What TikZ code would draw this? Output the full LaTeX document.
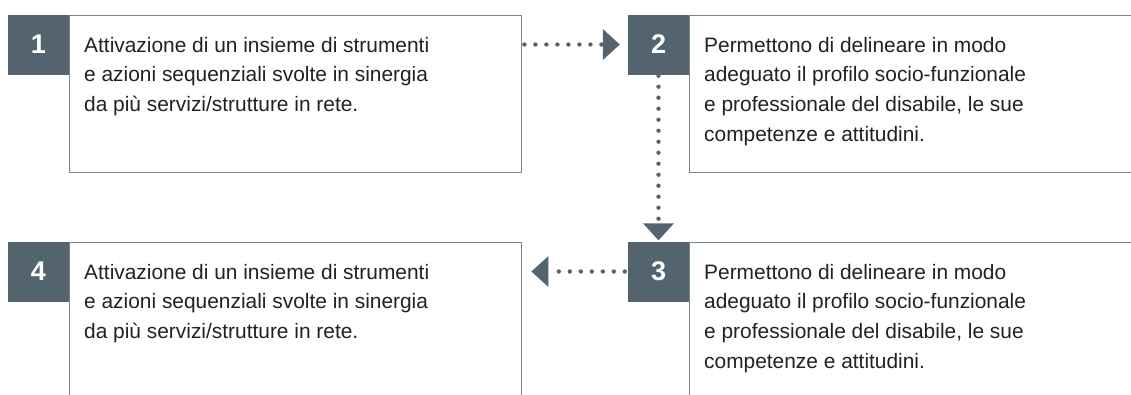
\documentclass[tikz,border=0pt]{standalone}
\usepackage{fontspec}
\setmainfont{Liberation Sans}
\usetikzlibrary{arrows.meta}
\definecolor{slate}{HTML}{53646E}
\definecolor{frame}{HTML}{76858F}
\definecolor{ink}{HTML}{222222}
\tikzset{
  numbox/.style={fill=slate, draw=none, minimum width=61pt, minimum height=60pt, inner sep=0pt, text=white, font=\fontsize{27}{27}\selectfont\bfseries},
  framebox/.style={draw=frame, line width=1.4pt, fill=white, inner sep=0pt, anchor=north west},
  txt/.style={inner sep=0pt, anchor=base west, text=ink},
  flow/.style={draw=slate, line width=4.4pt, line cap=round, dash pattern=on 0pt off 11pt,
    -{Triangle[length=17pt,width=31pt,fill=slate,line width=0pt]}}
}
\newcommand{\bodytext}[1]{\parbox[t]{420pt}{\fontsize{20.9}{29.7}\selectfont\raggedright #1}}
\begin{document}
\begin{tikzpicture}[x=1pt,y=-1pt]
\useasboundingbox (0,0) rectangle (1131,394);
\clip (0,0) rectangle (1131,394);
% boxes
\node[framebox, minimum width=452pt, minimum height=157pt] (b1) at (69,15) {};
\node[framebox, minimum width=460pt, minimum height=157pt] (b2) at (689,15) {};
\node[framebox, minimum width=452pt, minimum height=170pt] (b4) at (69,242) {};
\node[framebox, minimum width=460pt, minimum height=170pt] (b3) at (689,242) {};
% number squares
\node[numbox] (n1) at (38.5,44.5) {1};
\node[numbox] (n2) at (658.5,44.5) {2};
\node[numbox] (n3) at (658.5,271.5) {3};
\node[numbox] (n4) at (38.5,271.5) {4};
% texts
\node[txt] (t1) at (84,52) {\bodytext{Attivazione di un insieme di strumenti\\ e azioni sequenziali svolte in sinergia\\ da più servizi/strutture in rete.}};
\node[txt] (t2) at (704,52) {\bodytext{Permettono di delineare in modo\\ adeguato il profilo socio-funzionale\\ e professionale del disabile, le sue\\ competenze e attitudini.}};
\node[txt] (t4) at (84,279) {\bodytext{Attivazione di un insieme di strumenti\\ e azioni sequenziali svolte in sinergia\\ da più servizi/strutture in rete.}};
\node[txt] (t3) at (704,279) {\bodytext{Permettono di delineare in modo\\ adeguato il profilo socio-funzionale\\ e professionale del disabile, le sue\\ competenze e attitudini.}};
% connectors
\draw[flow, shorten <=2pt, shorten >=8pt] (b1.east |- n1.east) -- (n2.west);
\draw[flow, shorten <=1pt, shorten >=1pt] (n2.south) -- (n3.north);
\draw[flow, shorten <=3pt, shorten >=9pt] (n3.west) -- (b4.east |- n3.west);
\end{tikzpicture}
\end{document}
